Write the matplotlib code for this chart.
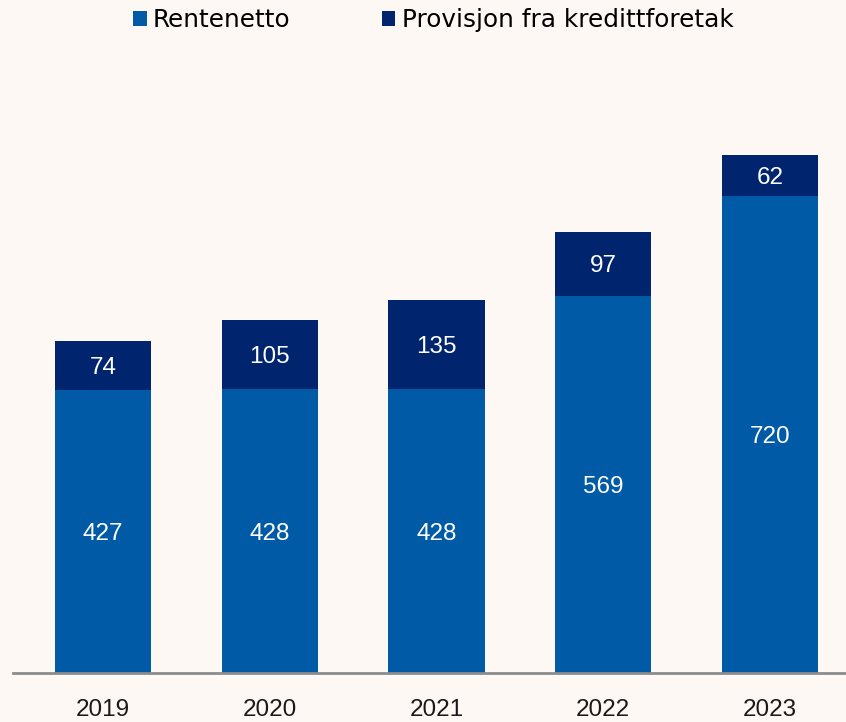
import matplotlib.pyplot as plt
import numpy as np

years = ['2019', '2020', '2021', '2022', '2023']
rentenetto = [427, 428, 428, 569, 720]
provisjon = [74, 105, 135, 97, 62]

col_rente = '#005AA5'
col_prov = '#00256E'
bg = '#FDF8F4'

fig = plt.figure(figsize=(8.46, 7.22), dpi=100, facecolor=bg)
ax = fig.add_axes([13/846, 49/722, 833/846, 613/722], facecolor=bg)

x = np.arange(len(years))
w = 0.576
b1 = ax.bar(x, rentenetto, w, color=col_rente, label='Rentenetto')
b2 = ax.bar(x, provisjon, w, bottom=rentenetto, color=col_prov,
            label='Provisjon fra kredittforetak')

for i in range(len(years)):
    ax.text(x[i], rentenetto[i] / 2, str(rentenetto[i]), ha='center', va='center_baseline',
            color='white', fontsize=17.5, family='Liberation Sans')
    ax.text(x[i], rentenetto[i] + provisjon[i] / 2, str(provisjon[i]), ha='center',
            va='center_baseline', color='white', fontsize=17.5, family='Liberation Sans')

ax.set_xlim(-0.54, 4.456)
ax.set_ylim(0, 925)
ax.set_yticks([])
ax.set_xticks(x)
ax.set_xticklabels(years, fontsize=17.5, family='Liberation Sans', color='#1a1a1a')
ax.tick_params(axis='x', length=0, pad=19)
for s in ['top', 'right', 'left']:
    ax.spines[s].set_visible(False)
ax.spines['bottom'].set_color('#8c8c8c')
ax.spines['bottom'].set_linewidth(2)

fig.legend(handles=[b1, b2], loc='center', bbox_to_anchor=(0.512, 0.972), ncol=2,
           frameon=False, handlelength=0.55, handleheight=0.55,
           handletextpad=0.25, columnspacing=3.7, prop={'family': 'DejaVu Sans', 'size': 17.8})

fig.savefig('out.png', dpi=100, facecolor=bg)
